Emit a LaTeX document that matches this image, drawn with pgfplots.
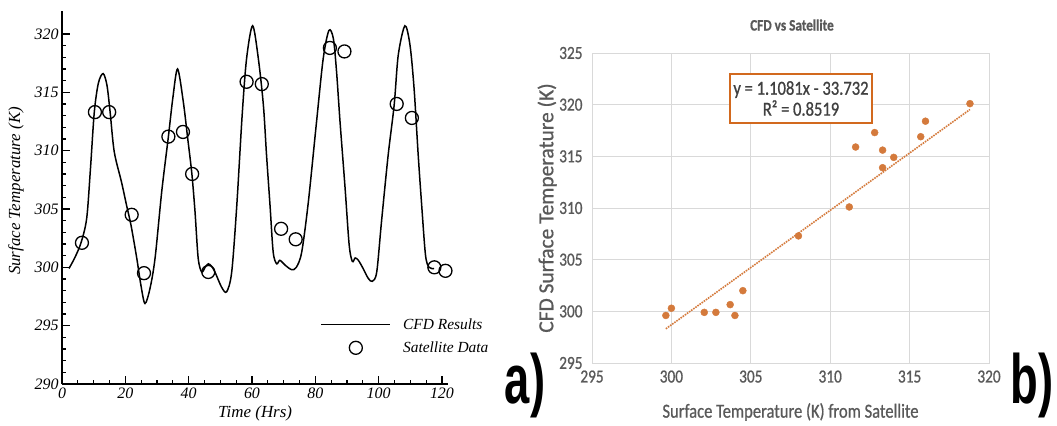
\documentclass[border=0pt]{standalone}
\usepackage{fontspec}
\setmainfont{Liberation Serif}
\newfontfamily\rfont[FakeStretch=0.83,FakeBold=0.8]{Carlito}
\newfontfamily\rfontn[FakeBold=0.8]{Carlito}
\newfontfamily\labfont[FakeStretch=0.65]{Liberation Sans}
\usepackage{pgfplots}
\usepackage{pgfplotstable}
\pgfplotsset{compat=1.18}
\definecolor{xlorange}{HTML}{D47A3C}
\definecolor{boxorange}{HTML}{D2691E}
\definecolor{xlgray}{HTML}{595959}
\definecolor{gridgray}{HTML}{D9D9D9}

\pgfplotstableread{
x y
2.2 299.9
4.0 300.8
6.0 302.1
7.8 304.2
9.0 308.5
10.2 313.3
11.5 315.8
13.0 316.6
14.2 315.6
15.2 313.3
16.5 309.9
18.8 307.3
20.4 305.3
21.8 303.6
23.6 300.8
24.9 298.5
26.2 296.9
27.8 298.2
29.4 300.8
31.5 306.5
33.6 311.2
35.0 314.5
36.5 317.0
38.3 314.2
39.7 311.05
41.0 308.05
42.0 304.8
43.0 300.8
44.1 299.6
45.2 300.0
46.2 300.3
47.2 300.1
48.3 299.6
50.4 298.3
52.0 297.9
53.6 299.6
55.2 305.3
56.9 313.05
58.3 317.9
60.2 320.7
62.0 317.9
63.6 313.9
64.6 309.6
65.7 305.3
66.7 301.3
67.8 300.3
68.8 300.6
70.4 300.2
72.5 299.8
74.0 300.0
75.7 301.3
77.8 305.6
80.4 312.5
82.5 317.9
84.3 320.3
85.7 319.6
86.7 316.8
87.8 312.5
89.4 306.8
90.7 301.9
91.7 300.5
92.6 300.8
93.6 300.6
95.1 299.9
96.7 299.06
98.0 298.8
99.4 299.6
100.9 303.9
103.0 309.6
104.9 313.9
106.2 318.2
108.3 320.7
109.9 319.05
111.2 315.3
112.5 309.6
113.6 305.3
114.8 301.05
115.9 300.0
117.5 299.9
}\cfdtable

\pgfplotstableread{
x y
6.3 302.1
10.4 313.3
14.9 313.3
22.0 304.5
25.9 299.5
33.6 311.2
38.2 311.6
41.1 308.0
46.2 299.6
58.3 315.9
63.1 315.7
69.2 303.3
73.8 302.4
84.6 318.8
89.2 318.5
105.7 314.0
110.5 312.8
117.6 300.0
121.1 299.7
}\sattable

\pgfplotstableread{
x y
299.65 299.6
300.0 300.3
302.07 299.9
302.8 299.9
303.7 300.65
304.0 299.6
304.5 302.0
308.0 307.3
311.2 310.1
311.6 315.9
312.8 317.3
313.3 315.6
313.3 313.9
314.0 314.9
315.7 316.9
316.0 318.4
318.8 320.1
}\scattable

\begin{document}
\begin{tikzpicture}
\path[use as bounding box] (0,0) rectangle (1057bp,426bp);

% ---------- panel a ----------
\begin{axis}[
  scale only axis, width=386.3bp, height=373.4bp,
  at={(62bp,42bp)}, anchor=south west,
  xmin=0, xmax=122, ymin=290, ymax=322,
  axis lines=left, axis line style={-, line width=1.4bp},
  xtick={0,20,...,120}, ytick={290,295,...,320},
  minor x tick num=3, minor y tick num=4,
  tick align=inside, major tick length=8bp, minor tick length=4bp,
  every tick/.style={line width=1.2bp, black},
  /pgf/number format/assume math mode=true,
  tick label style={font=\fontsize{16}{16}\selectfont\itshape},
  xlabel={Time (Hrs)}, ylabel={Surface Temperature (K)},
  label style={font=\fontsize{17}{17}\selectfont\itshape},
  xlabel style={at={(axis description cs:0.5,-0.0777)}, anchor=center},
  ylabel style={at={(axis description cs:-0.119,0.517)}, anchor=center},
  legend style={draw=none, fill=none, at={(axis cs:81.6,295.8)}, anchor=north west,
     inner sep=0pt, row sep=7bp, column sep=10bp, font=\fontsize{15.5}{15.5}\selectfont\itshape,
     cells={anchor=west}},
  legend image code/.code={\draw[mark repeat=2,mark phase=2,#1] plot coordinates {(0bp,0bp) (34.5bp,0bp) (69bp,0bp)};},
]
\addplot[black, line width=1.5bp, smooth, tension=0.5] table[x=x,y=y] {\cfdtable};
\addlegendentry{CFD Results}
\addplot[only marks, mark=o, mark size=6.5bp, mark options={line width=1.3bp, black}] table[x=x,y=y] {\sattable};
\addlegendentry{Satellite Data}
\end{axis}

% ---------- panel b ----------
\begin{axis}[
  scale only axis, width=397bp, height=310bp,
  at={(592bp,63bp)}, anchor=south west,
  xmin=295, xmax=320, ymin=295, ymax=325,
  xtick={295,300,...,320}, ytick={295,300,...,325},
  grid=major, grid style={gridgray, line width=0.8bp},
  axis line style={gridgray, line width=0.8bp},
  major tick length=0pt,
  /pgf/number format/assume math mode=true,
  tick label style={font=\rfont\fontsize{18.5}{18.5}\selectfont, text=xlgray},
  xticklabel style={yshift=-4bp},
  yticklabel style={xshift=-6bp},
  xlabel={Surface Temperature (K) from Satellite},
  ylabel={CFD Surface Temperature (K)},
  xlabel style={at={(axis description cs:0.5,-0.158)}, anchor=center, font=\rfont\fontsize{20}{20}\selectfont, text=xlgray},
  ylabel style={at={(axis description cs:-0.113,0.5)}, anchor=center, font=\rfontn\fontsize{21.5}{21.5}\selectfont, text=xlgray},
]
\addplot[xlorange, densely dotted, line width=1.6bp] coordinates {(299.65,298.31) (318.8,319.53)};
\addplot[only marks, mark=*, mark size=3.5bp, mark options={draw=xlorange, fill=xlorange}] table[x=x,y=y] {\scattable};
\node[draw=boxorange, line width=2.5bp, fill=white, minimum width=142bp, minimum height=49bp,
      align=center, font=\rfont\fontsize{20}{21}\selectfont, text=black!75, inner sep=2bp]
      at (axis cs:308.16,320.6) {y = 1.1081x - 33.732\\R² = 0.8519};
\end{axis}

\node[font=\rfont\fontsize{16}{16}\selectfont\bfseries, text=xlgray] at (792bp,401bp) {CFD vs Satellite};
\node[font=\labfont\bfseries\fontsize{70}{70}\selectfont, anchor=base] at (525bp,23bp) {a)};
\node[font=\labfont\bfseries\fontsize{70}{70}\selectfont, anchor=base] at (1032bp,23bp) {b)};
\end{tikzpicture}
\end{document}
